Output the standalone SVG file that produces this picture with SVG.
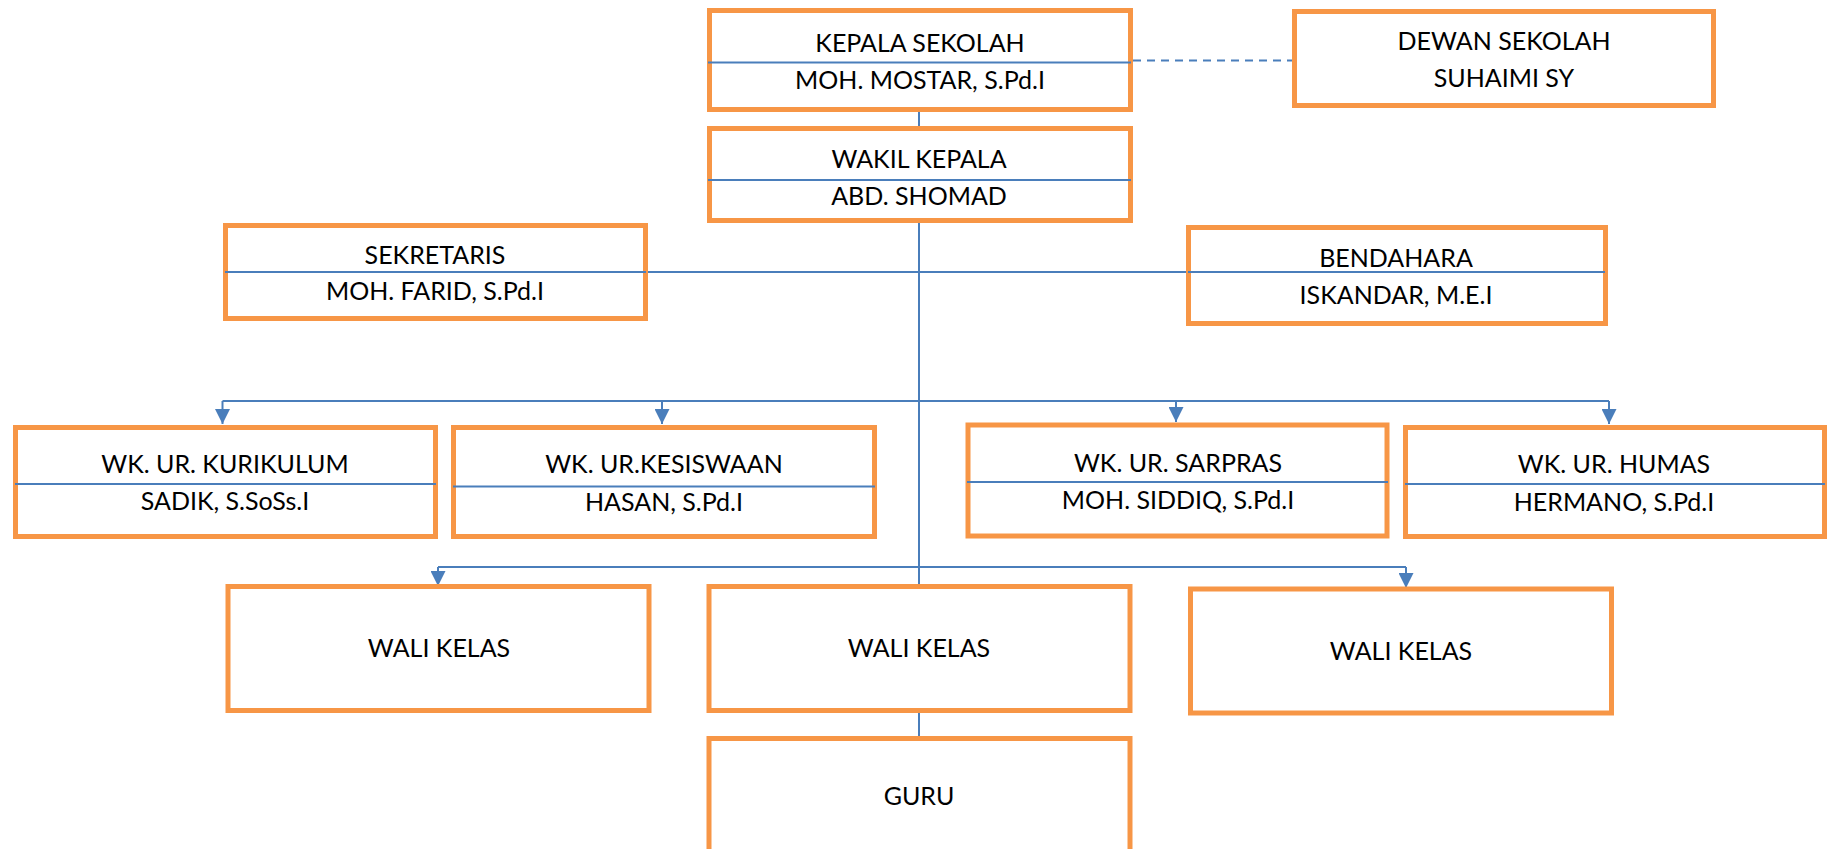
<svg xmlns="http://www.w3.org/2000/svg" width="1837" height="849" viewBox="0 0 1837 849">
<defs>
<style>
.box{fill:#ffffff;stroke:#F79646;stroke-width:5}
.div{stroke:#4A7EBB;stroke-width:2;fill:none}
.con{stroke:#4A7EBB;stroke-width:2;fill:none}
.dash{stroke:#4A7EBB;stroke-width:2.2;fill:none;stroke-dasharray:8 6}
text{font-family:Lato,"Open Sans","Liberation Sans",sans-serif;font-size:25px;fill:#000;text-anchor:middle}
</style>
<marker id="arr" markerUnits="userSpaceOnUse" markerWidth="15" markerHeight="15" refX="15" refY="7.5" orient="auto" viewBox="0 0 15 15">
<path d="M0,0 L15,7.5 L0,15 z" fill="#4A7EBB"/>
</marker>
</defs>
<rect width="1837" height="849" fill="#ffffff"/>
<g id="connectors">
<path class="con" d="M919 110 V129"/>
<path class="con" d="M919 221 V585"/>
<path class="con" d="M919 711 V737"/>
<path class="con" d="M645 272 H1189"/>
<path class="dash" d="M1133 60.5 H1292"/>
<path class="con" d="M222.5 401 H1609"/>
<path class="con" d="M222.5 401 V424" marker-end="url(#arr)"/>
<path class="con" d="M662 401 V424" marker-end="url(#arr)"/>
<path class="con" d="M1176 401 V422" marker-end="url(#arr)"/>
<path class="con" d="M1609 401 V424" marker-end="url(#arr)"/>
<path class="con" d="M438 567 H1406"/>
<path class="con" d="M438 567 V586" marker-end="url(#arr)"/>
<path class="con" d="M1406 567 V588" marker-end="url(#arr)"/>
</g>
<g id="kepala">
<rect class="box" x="709.5" y="10.5" width="421" height="99"/>
<path class="div" d="M708 62.5 H1131"/>
<text x="920" y="52">KEPALA SEKOLAH</text>
<text x="920" y="88.5">MOH. MOSTAR, S.Pd.I</text>
</g>
<g id="dewan">
<rect class="box" x="1294.5" y="11.5" width="419" height="94"/>
<text x="1504" y="50">DEWAN SEKOLAH</text>
<text x="1504" y="87">SUHAIMI SY</text>
</g>
<g id="wakil">
<rect class="box" x="709.5" y="128.5" width="421" height="92"/>
<path class="div" d="M708 180 H1131"/>
<text x="919" y="168">WAKIL KEPALA</text>
<text x="919" y="205">ABD. SHOMAD</text>
</g>
<g id="sekretaris">
<rect class="box" x="225.5" y="225.5" width="420" height="93"/>
<path class="div" d="M225 272 H646"/>
<text x="435" y="264">SEKRETARIS</text>
<text x="435" y="300">MOH. FARID, S.Pd.I</text>
</g>
<g id="bendahara">
<rect class="box" x="1188.5" y="227.5" width="417" height="96"/>
<path class="div" d="M1188 272 H1605"/>
<text x="1396" y="267">BENDAHARA</text>
<text x="1396" y="304">ISKANDAR, M.E.I</text>
</g>
<g id="kurikulum">
<rect class="box" x="15.5" y="427.5" width="420" height="109"/>
<path class="div" d="M15 484 H436"/>
<text x="225" y="473">WK. UR. KURIKULUM</text>
<text x="225" y="510">SADIK, S.SoSs.I</text>
</g>
<g id="kesiswaan">
<rect class="box" x="453.5" y="427.5" width="421" height="109"/>
<path class="div" d="M453 486.5 H875"/>
<text x="664" y="473">WK. UR.KESISWAAN</text>
<text x="664" y="511">HASAN, S.Pd.I</text>
</g>
<g id="sarpras">
<rect class="box" x="968" y="425" width="419" height="111"/>
<path class="div" d="M967 482 H1388"/>
<text x="1178" y="472">WK. UR. SARPRAS</text>
<text x="1178" y="509">MOH. SIDDIQ, S.Pd.I</text>
</g>
<g id="humas">
<rect class="box" x="1405.5" y="427.5" width="419" height="109"/>
<path class="div" d="M1405 484 H1825"/>
<text x="1614" y="473">WK. UR. HUMAS</text>
<text x="1614" y="511">HERMANO, S.Pd.I</text>
</g>
<g id="wali1">
<rect class="box" x="228" y="586.5" width="421" height="124"/>
<text x="439" y="657">WALI KELAS</text>
</g>
<g id="wali2">
<rect class="box" x="709" y="586.5" width="421" height="124"/>
<text x="919" y="657">WALI KELAS</text>
</g>
<g id="wali3">
<rect class="box" x="1190.5" y="589" width="421" height="124"/>
<text x="1401" y="660">WALI KELAS</text>
</g>
<g id="guru">
<rect class="box" x="709" y="738.5" width="421" height="130"/>
<text x="919" y="805">GURU</text>
</g>
</svg>
